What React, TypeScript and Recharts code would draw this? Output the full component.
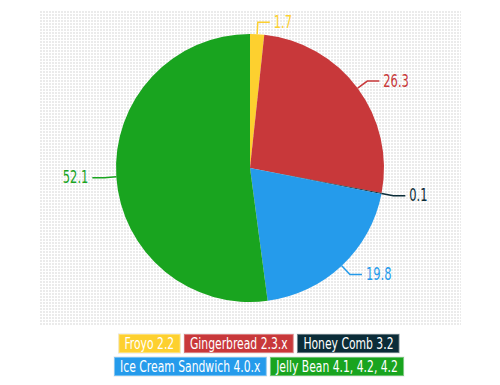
import React from "react";
import { PieChart, Pie, Cell, Legend } from "recharts";

const versions = [
  "Froyo 2.2",
  "Gingerbread 2.3.x",
  "Honey Comb 3.2",
  "Ice Cream Sandwich 4.0.x",
  "Jelly Bean 4.1, 4.2, 4.2",
];
const shares = [1.7, 26.3, 0.1, 19.8, 52.1];
const colors = ["#FDD02F", "#C8383A", "#0B2C38", "#259BEB", "#19A41F"];
const legendRows = [
  [0, 1, 2],
  [3, 4],
];

const data = versions.map((name, i) => ({ name, value: shares[i] }));

const FONT = "'DejaVu Sans', sans-serif";
const RADIAN = Math.PI / 180;
const NARROW = 0.75; // squeeze to mimic a narrow face

// elbow label: radial stub then horizontal run, text in slice colour
const renderLabel = (props: any) => {
  const { cx, cy, midAngle, outerRadius, value, index } = props;
  const cos = Math.cos(-RADIAN * midAngle);
  const sin = Math.sin(-RADIAN * midAngle);
  const sx = cx + outerRadius * cos;
  const sy = cy + outerRadius * sin;
  const mx = cx + (outerRadius + 12) * cos;
  const my = cy + (outerRadius + 12) * sin;
  const dir = cos >= 0 ? 1 : -1;
  const ex = mx + dir * 12;
  const color = colors[index];
  return (
    <g>
      <path
        d={`M${sx},${sy}L${mx},${my}L${ex},${my}`}
        stroke={color}
        strokeWidth={1.5}
        fill="none"
      />
      <text
        x={0}
        y={0}
        transform={`translate(${ex + dir * 4},${my}) scale(${NARROW},1)`}
        fill={color}
        textAnchor={dir > 0 ? "start" : "end"}
        dominantBaseline="central"
        fontSize={17}
        fontFamily={FONT}
        style={{ fontStretch: "condensed" }}
      >
        {value}
      </text>
    </g>
  );
};

const renderLegend = () => (
  <div
    style={{
      display: "flex",
      flexDirection: "column",
      alignItems: "center",
      gap: 4,
      transform: `scaleX(${NARROW})`,
    }}
  >
    {legendRows.map((row, r) => (
      <div key={r} style={{ display: "flex", gap: 5 }}>
        {row.map((i) => (
          <span
            key={versions[i]}
            style={{
              background: colors[i],
              color: "#fff",
              fontFamily: FONT,
              fontStretch: "condensed",
              fontSize: 16,
              lineHeight: "17px",
              padding: "0px 7px",
              border: "1px solid rgba(255,255,255,0.35)",
              outline: "1px solid rgba(0,0,0,0.06)",
              whiteSpace: "nowrap",
            }}
          >
            {versions[i]}
          </span>
        ))}
      </div>
    ))}
  </div>
);

export default function App() {
  return (
    <div style={{ position: "absolute", left: 0, top: 0, width: 500, height: 385, background: "#fff" }}>
      <div
        style={{
          position: "absolute",
          left: 40,
          top: 10,
          width: 421,
          height: 316,
          backgroundColor: "#ebebeb",
          backgroundImage:
            "linear-gradient(90deg, transparent 2px, #fff 2px), linear-gradient(0deg, transparent 2px, #fff 2px)",
          backgroundSize: "3px 3px",
        }}
      />
      <div style={{ position: "absolute", left: 0, top: 0 }}>
        <PieChart width={500} height={385}>
          <Pie
            data={data}
            dataKey="value"
            nameKey="name"
            cx={245}
            cy={163}
            outerRadius={134}
            startAngle={90}
            endAngle={-270}
            stroke="none"
            label={renderLabel}
            labelLine={false}
            isAnimationActive={false}
          >
            {data.map((d, i) => (
              <Cell key={d.name} fill={colors[i]} />
            ))}
          </Pie>
          <Legend
            content={renderLegend}
            wrapperStyle={{ left: 9, top: 334, width: 500 }}
          />
        </PieChart>
      </div>
    </div>
  );
}
